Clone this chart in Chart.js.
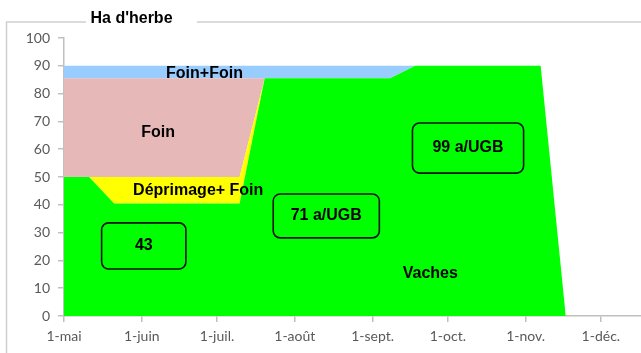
<!DOCTYPE html>
<html>
<head>
<meta charset="utf-8">
<script src="https://cdn.jsdelivr.net/npm/chart.js@4.4.0/dist/chart.umd.min.js"></script>
<style>
  html, body { margin: 0; padding: 0; background: #fff; }
  canvas { display: block; }
</style>
</head>
<body>
<canvas id="myChart" width="641" height="353"></canvas>
<script>
// days counted from 1-mai
const days      = [0, 10, 20, 30, 40, 50, 60, 70, 80, 90, 100, 110, 120, 130, 140, 150, 160, 170, 180, 190, 200];
const vaches    = [50, 50, 40.5, 40.5, 40.5, 40.5, 40.5, 40.5, 85.5, 85.5, 85.5, 85.5, 85.5, 85.5, 90, 90, 90, 90, 90, 90, 0];
const deprimage = [0, 0, 9.5, 9.5, 9.5, 9.5, 9.5, 9.5, 0, 0, 0, 0, 0, 0, 0, 0, 0, 0, 0, 0, 0];
const foin      = [35.5, 35.5, 35.5, 35.5, 35.5, 35.5, 35.5, 35.5, 0, 0, 0, 0, 0, 0, 0, 0, 0, 0, 0, 0, 0];
const foinFoin  = [4.5, 4.5, 4.5, 4.5, 4.5, 4.5, 4.5, 4.5, 4.5, 4.5, 4.5, 4.5, 4.5, 4.5, 0, 0, 0, 0, 0, 0, 0];

const monthDays   = [0, 31, 61, 92, 123, 153, 184, 214];
const monthLabels = ['1-mai', '1-juin', '1-juil.', '1-août', '1-sept.', '1-oct.', '1-nov.', '1-déc.'];

// text on the areas, in chart units (day, ha)
const areaLabels = [
  { text: 'Foin+Foin', x: 56, y: 87.3 },
  { text: 'Foin', x: 37.5, y: 65.8 },
  { text: 'Déprimage+ Foin', x: 53.5, y: 45 },
  { text: 'Vaches', x: 146, y: 15.1 }
];
const boxes = [
  { text: '43', x0: 15, x1: 48.6, y0: 16.9, y1: 33.5 },
  { text: '71 a/UGB', x0: 83.4, x1: 125.7, y0: 28.1, y1: 43.9 },
  { text: '99 a/UGB', x0: 138.9, x1: 183.2, y0: 51.4, y1: 69.4 }
];

function series(values) {
  return values.map((v, i) => ({ x: days[i], y: v }));
}

const decor = {
  id: 'decor',
  afterDatasetsDraw(chart) {
    const ctx = chart.ctx;
    const xs = chart.scales.x;
    const ys = chart.scales.y;
    ctx.save();
    ctx.font = 'bold 16px "Liberation Sans", Arial, sans-serif';
    ctx.textAlign = 'center';
    ctx.textBaseline = 'middle';
    ctx.fillStyle = '#000';
    areaLabels.forEach(l => {
      ctx.fillText(l.text, xs.getPixelForValue(l.x), ys.getPixelForValue(l.y));
    });
    boxes.forEach(b => {
      const left = xs.getPixelForValue(b.x0);
      const right = xs.getPixelForValue(b.x1);
      const top = ys.getPixelForValue(b.y1);
      const bottom = ys.getPixelForValue(b.y0);
      ctx.beginPath();
      ctx.roundRect(left, top, right - left, bottom - top, 7);
      ctx.lineWidth = 1.6;
      ctx.strokeStyle = '#111';
      ctx.stroke();
      ctx.fillText(b.text, (left + right) / 2, (top + bottom) / 2);
    });

    // outer frame with the title sitting on it
    ctx.strokeStyle = '#cfcfcf';
    ctx.lineWidth = 1.5;
    ctx.beginPath();
    ctx.moveTo(6.5, 353);
    ctx.lineTo(6.5, 22);
    ctx.lineTo(86, 22);
    ctx.moveTo(197, 22);
    ctx.lineTo(641, 22);
    ctx.stroke();
    ctx.fillText("Ha d'herbe", 131.5, 19);
    ctx.restore();
  }
};

const ctx = document.getElementById('myChart');
new Chart(ctx, {
  type: 'line',
  data: {
    datasets: [
      { label: 'Vaches', data: series(vaches), backgroundColor: '#00ff00', fill: 'origin' },
      { label: 'Déprimage+ Foin', data: series(deprimage), backgroundColor: '#ffff00', fill: '-1' },
      { label: 'Foin', data: series(foin), backgroundColor: '#e6b9b8', fill: '-1' },
      { label: 'Foin+Foin', data: series(foinFoin), backgroundColor: '#99ccff', fill: '-1' }
    ]
  },
  options: {
    responsive: false,
    animation: false,
    elements: {
      line: { borderWidth: 0, tension: 0 },
      point: { radius: 0, hoverRadius: 0 }
    },
    layout: { padding: { top: 38, left: 0, right: 0, bottom: 0 } },
    plugins: {
      legend: { display: false },
      tooltip: { enabled: false }
    },
    scales: {
      x: {
        type: 'linear',
        min: 0,
        max: 230,
        afterFit: s => { s.height = 37; },
        afterBuildTicks: s => { s.ticks = monthDays.map(v => ({ value: v })); },
        border: { color: '#c0c0c0', width: 1.5 },
        grid: { drawOnChartArea: false, color: '#c0c0c0', tickLength: 6, lineWidth: 1.5 },
        ticks: {
          autoSkip: false,
          maxRotation: 0,
          padding: 6,
          color: '#595959',
          font: { family: 'Lato', size: 14 },
          callback: v => monthLabels[monthDays.indexOf(v)]
        }
      },
      y: {
        stacked: true,
        min: 0,
        max: 100,
        afterFit: s => { s.width = 64; },
        border: { color: '#c0c0c0', width: 1.5 },
        grid: { drawOnChartArea: false, color: '#c0c0c0', tickLength: 6, lineWidth: 1.5 },
        ticks: {
          stepSize: 10,
          padding: 8,
          color: '#595959',
          font: { family: 'Lato', size: 14 }
        }
      }
    }
  },
  plugins: [decor]
});
</script>
</body>
</html>
